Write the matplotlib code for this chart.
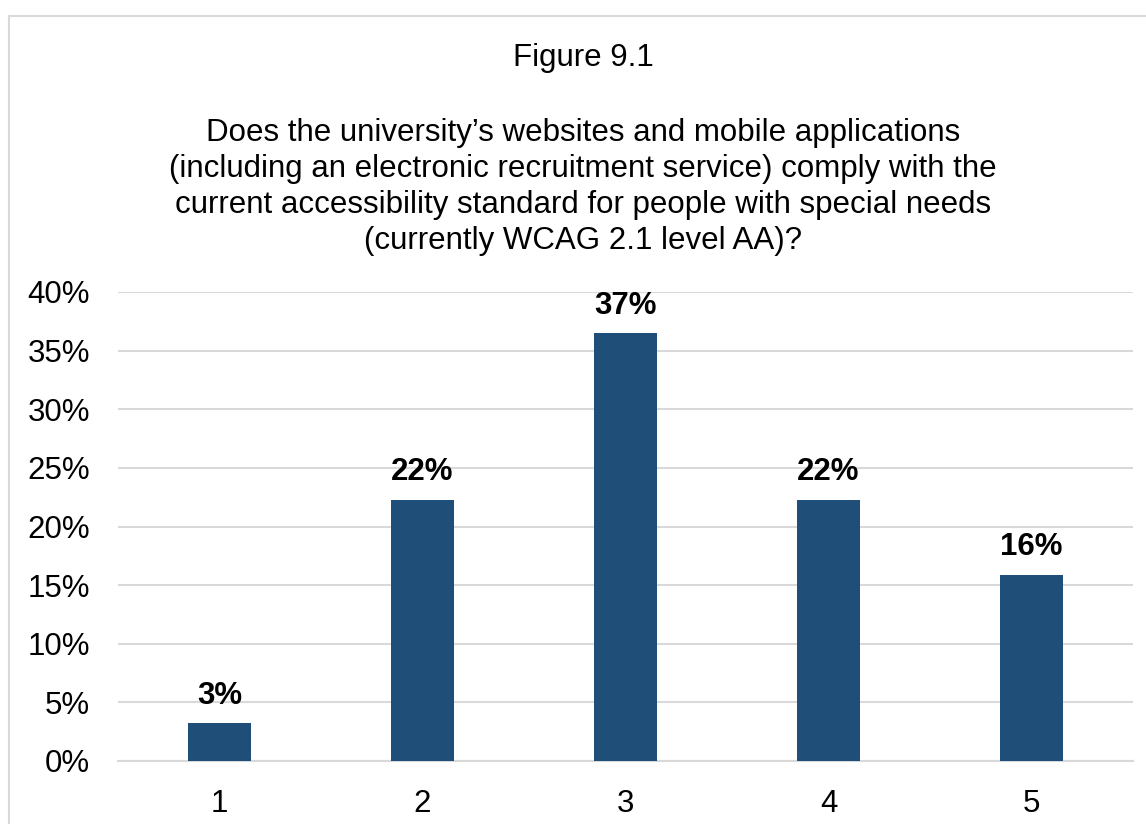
import matplotlib.pyplot as plt
from matplotlib.patches import Rectangle
from matplotlib.ticker import PercentFormatter

plt.rcParams['font.family'] = ['Liberation Sans', 'DejaVu Sans']

categories = ['1', '2', '3', '4', '5']
shares = [3.2, 22.3, 36.5, 22.3, 15.9]
bar_labels = ['3%', '22%', '37%', '22%', '16%']
y_ticks = [0, 5, 10, 15, 20, 25, 30, 35, 40]

FIG_NO = 'Figure 9.1'
QUESTION = ('Does the university\u2019s websites and mobile applications\n'
            '(including an electronic recruitment service) comply with the\n'
            'current accessibility standard for people with special needs\n'
            '(currently WCAG 2.1 level AA)?')

BAR_COLOR = '#1F4E79'
GRID_COLOR = '#D9D9D9'
FS = 22.5

fig = plt.figure(figsize=(11.46, 8.24), dpi=100)
ax = fig.add_axes([118 / 1146, 1 - 761 / 824, (1133 - 118) / 1146, (761 - 292) / 824])

x = list(range(1, len(categories) + 1))
bars = ax.bar(x, shares, width=0.31, color=BAR_COLOR, zorder=3)
for b, lab in zip(bars, bar_labels):
    # baseline of the label sits about 20 px above the bar
    ax.annotate(lab, (b.get_x() + b.get_width() / 2, b.get_height()), xytext=(0, 14),
                textcoords='offset points', ha='center', va='baseline',
                fontsize=FS, fontweight='bold')

ax.set_xlim(0.5, 5.5)
ax.set_ylim(0, 40)
ax.set_xticks(x)
ax.set_xticklabels(categories, fontsize=FS)
ax.set_yticks(y_ticks)
ax.yaxis.set_major_formatter(PercentFormatter(decimals=0))
ax.tick_params(axis='y', labelsize=FS, length=0, pad=20)
ax.tick_params(axis='x', length=0, pad=20)
ax.grid(axis='y', color=GRID_COLOR, linewidth=1.5, zorder=0)
for side in ['top', 'right', 'left']:
    ax.spines[side].set_visible(False)
ax.spines['bottom'].set_color(GRID_COLOR)
ax.spines['bottom'].set_linewidth(1.5)

fig.text(583 / 1146, 1 - 58 / 824, FIG_NO, ha='center', va='center', fontsize=FS)
fig.text(583 / 1146, 1 - 187 / 824, QUESTION, ha='center', va='center', fontsize=FS,
         linespacing=1.27)

# light frame round the chart (right and bottom edges fall outside the picture)
fig.patches.append(Rectangle((8.5 / 1146, -0.01), 1.02, 1 - 16 / 824 + 0.01,
                             transform=fig.transFigure, fill=False,
                             edgecolor='#D9D9D9', linewidth=1.5))

fig.savefig('out.png', dpi=100, facecolor='white')
